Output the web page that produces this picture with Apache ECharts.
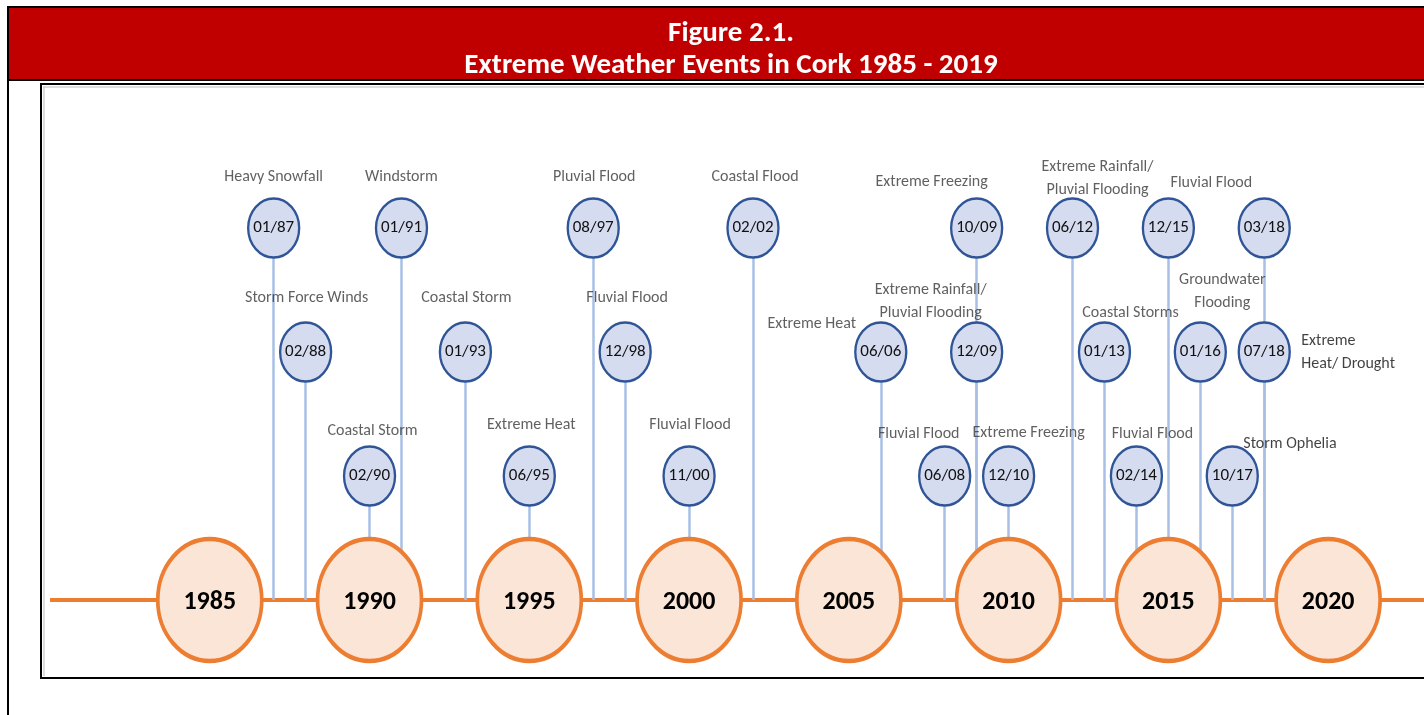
<!DOCTYPE html>
<html>
<head>
<meta charset="utf-8">
<script src="https://cdn.jsdelivr.net/npm/echarts@6/dist/echarts.min.js"></script>
<style>
  html, body { margin: 0; padding: 0; background: #fff; }
  #main { width: 1424px; height: 715px; }
</style>
</head>
<body>
<div id="main"></div>
<script>
// year markers on the timeline
var yearMarks = [1985, 1990, 1995, 2000, 2005, 2010, 2015, 2020];

// events: date label, year, row (1 = low, 3 = high), name
var eventDates = ['01/87', '02/88', '02/90', '01/91', '01/93', '06/95', '08/97', '12/98',
                  '11/00', '02/02', '06/06', '06/08', '10/09', '12/09', '12/10', '06/12',
                  '01/13', '02/14', '12/15', '01/16', '10/17', '03/18', '07/18'];
var eventYears = [1987, 1988, 1990, 1991, 1993, 1995, 1997, 1998,
                  2000, 2002, 2006, 2008, 2009, 2009, 2010, 2012,
                  2013, 2014, 2015, 2016, 2017, 2018, 2018];
var eventRows  = [3, 2, 1, 3, 2, 1, 3, 2,
                  1, 3, 2, 1, 3, 2, 1, 3,
                  2, 1, 3, 2, 1, 3, 2];
var eventNames = ['Heavy Snowfall', 'Storm Force Winds', 'Coastal Storm', 'Windstorm',
                  'Coastal Storm', 'Extreme Heat', 'Pluvial Flood', 'Fluvial Flood',
                  'Fluvial Flood', 'Coastal Flood', 'Extreme Heat', 'Fluvial Flood',
                  'Extreme Freezing', 'Extreme Rainfall/\nPluvial Flooding', 'Extreme Freezing',
                  'Extreme Rainfall/\nPluvial Flooding', 'Coastal Storms', 'Fluvial Flood',
                  'Fluvial Flood', 'Groundwater\nFlooding', 'Storm Ophelia', '',
                  'Extreme\nHeat/ Drought'];

// where each name sits relative to its bubble (layout only)
var nameOffsets = [[0, -51], [1, -54], [3, -45], [0, -51], [1, -54], [2, -51], [1, -51], [2, -54],
                   [1, -51], [2, -51], [-69, -28], [-26, -42], [-45, -46], [-46, -51], [20, -43],
                   [25, -50], [26, -39], [16, -42], [43, -45], [22, -61], [11, -32], [0, 0],
                   [37, 0]];
var nameAlign = ['center', 'center', 'center', 'center', 'center', 'center', 'center', 'center',
                 'center', 'center', 'center', 'center', 'center', 'center', 'center', 'center',
                 'center', 'center', 'center', 'center', 'left', 'center', 'left'];

var FONT = 'Carlito, "Liberation Sans Narrow", "Open Sans", sans-serif';

var connectors = [], bubbles = [], names = [];
for (var i = 0; i < eventDates.length; i++) {
  connectors.push({ coords: [[eventYears[i], eventRows[i]], [eventYears[i], 0]] });
  bubbles.push({ value: [eventYears[i], eventRows[i]], name: eventDates[i] });
  names.push({
    value: [eventYears[i], eventRows[i]],
    name: eventNames[i],
    label: {
      offset: nameOffsets[i],
      align: nameAlign[i],
      color: nameAlign[i] === 'left' ? '#111' : '#383838'
    }
  });
}

var chart = echarts.init(document.getElementById('main'));
chart.setOption({
  animation: false,
  title: {
    text: 'Figure 2.1.\nExtreme Weather Events in Cork 1985 - 2019',
    left: 726,
    top: 13,
    textAlign: 'center',
    z: 10,
    textStyle: {
      color: '#fff',
      fontFamily: FONT,
      fontWeight: 'bold',
      fontSize: 29,
      lineHeight: 32
    }
  },
  graphic: [
    { type: 'rect', z: 0, shape: { x: 8, y: 7, width: 1430, height: 73 },
      style: { fill: '#c00000', stroke: '#000', lineWidth: 2 } },
    { type: 'line', z: 0, shape: { x1: 8, y1: 7, x2: 8, y2: 715 },
      style: { stroke: '#000', lineWidth: 2 } },
    { type: 'rect', z: 0, shape: { x: 41, y: 84, width: 1400, height: 594 },
      style: { fill: 'none', stroke: '#000', lineWidth: 2 } },
    { type: 'line', z: 0, shape: { x1: 43, y1: 87, x2: 1424, y2: 87 },
      style: { stroke: '#bbb', lineWidth: 1 } },
    { type: 'line', z: 0, shape: { x1: 44, y1: 87, x2: 44, y2: 676 },
      style: { stroke: '#bbb', lineWidth: 1 } }
  ],
  grid: { left: 50, width: 1375, top: 104, height: 496 },
  xAxis: { type: 'value', min: 1980, max: 2023, show: false },
  yAxis: { type: 'value', min: 0, max: 4, show: false },
  series: [
    {
      type: 'line',
      z: 1,
      symbol: 'none',
      silent: true,
      data: [[1980, 0], [2023, 0]],
      lineStyle: { color: '#ed7d31', width: 4 }
    },
    {
      type: 'lines',
      coordinateSystem: 'cartesian2d',
      z: 2,
      silent: true,
      data: connectors,
      lineStyle: { color: '#a9bfe6', width: 2.5, opacity: 1 }
    },
    {
      type: 'scatter',
      z: 3,
      clip: false,
      silent: true,
      symbol: 'circle',
      symbolSize: [104, 122],
      data: yearMarks.map(function (y) { return [y, 0]; }),
      itemStyle: { color: '#fbe5d6', borderColor: '#ed7d31', borderWidth: 4, opacity: 1 },
      label: {
        show: true,
        position: 'inside',
        offset: [0, 2],
        formatter: function (p) { return p.value[0]; },
        color: '#000',
        fontFamily: FONT,
        fontWeight: 'bold',
        fontSize: 26
      }
    },
    {
      type: 'scatter',
      z: 4,
      clip: false,
      silent: true,
      symbol: 'circle',
      symbolSize: [51, 59],
      data: bubbles,
      itemStyle: { color: '#d6dcef', borderColor: '#2f5597', borderWidth: 2.5, opacity: 1 },
      label: {
        show: true,
        position: 'inside',
        formatter: '{b}',
        color: '#111',
        fontFamily: FONT,
        fontSize: 17
      }
    },
    {
      type: 'scatter',
      z: 5,
      clip: false,
      silent: true,
      symbolSize: 1,
      data: names,
      itemStyle: { color: 'rgba(0,0,0,0)' },
      label: {
        show: true,
        position: 'inside',
        formatter: '{b}',
        fontFamily: FONT,
        fontSize: 16,
        lineHeight: 23
      }
    }
  ]
});
</script>
</body>
</html>
